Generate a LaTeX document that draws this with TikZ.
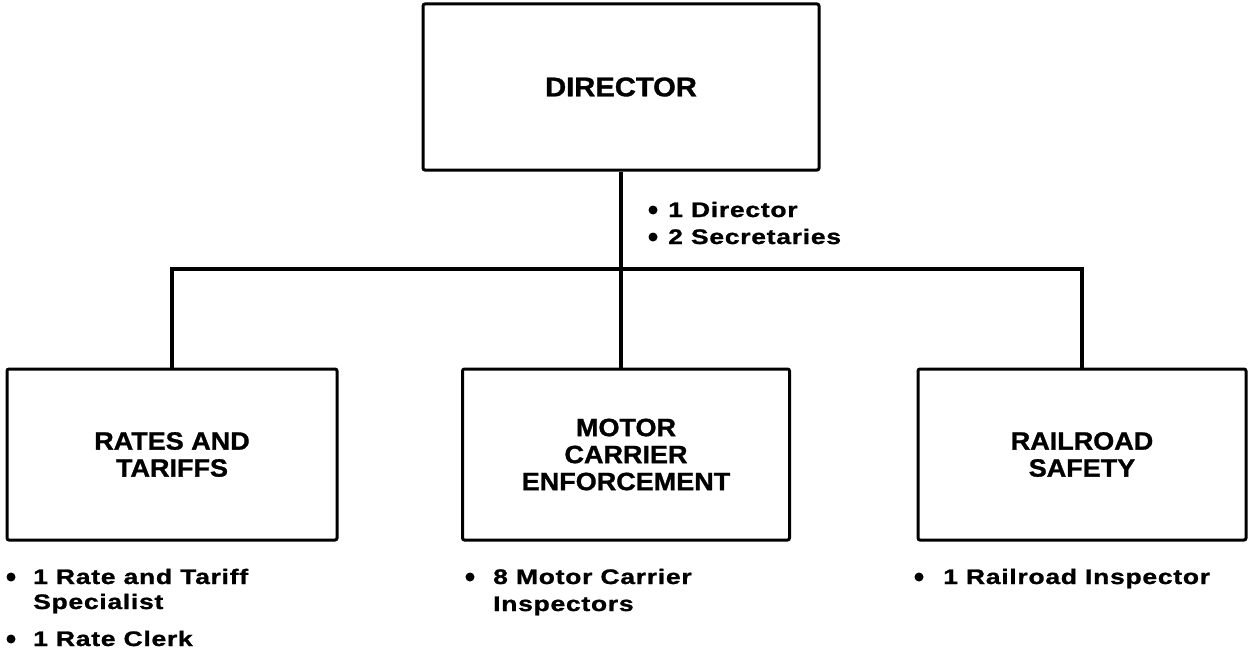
\documentclass[tikz,border=0pt]{standalone}
\usepackage{fontspec}
\setmainfont{Liberation Sans}
\newfontfamily\titlef[FakeStretch=1.08,FakeBold=1.2]{Liberation Sans}
\newfontfamily\bulf[FakeStretch=1.26,LetterSpace=3.5,FakeBold=1.2]{Liberation Sans}
\begin{document}
\begin{tikzpicture}[x=1pt,y=-1pt,
  box/.style={draw, line width=3pt, rounded corners=2pt, inner sep=0pt,
    font=\titlef\bfseries\fontsize{25}{27}\selectfont, align=center},
  conn/.style={line width=3.5pt, line join=miter},
  itm/.style={font=\bulf\bfseries\fontsize{21}{26}\selectfont, anchor=base west, inner sep=0pt},
  dot/.style={circle, fill, inner sep=0pt, minimum size=9pt}]
\useasboundingbox (0,0) rectangle (1249,650);
% boxes
\node[box, minimum width=396pt, minimum height=166pt,
  font=\titlef\bfseries\fontsize{27}{29}\selectfont] (dir) at (621,87) {DIRECTOR};
\node[box, minimum width=330pt, minimum height=171pt] (rates) at (172,454.5) {RATES AND\\TARIFFS};
\node[box, minimum width=327pt, minimum height=171pt] (motor) at (626,454.5) {MOTOR\\CARRIER\\ENFORCEMENT};
\node[box, minimum width=328pt, minimum height=171pt] (rail) at (1082,454.5) {RAILROAD\\SAFETY};
% connectors
\coordinate (jn) at (621,269);
\draw[conn] (dir.south) -- (jn);
\draw[conn] (rates.north) |- (jn) -| (rail.north);
\draw[conn] (jn) -- (jn |- motor.north);
% director staff
\node[dot] (d1) at (653,210) {};
\node[itm] (t1) at (668,217) {1 Director};
\node[dot] (d2) at (653,237) {};
\node[itm] (t2) at (668,244) {2 Secretaries};
% rates staff
\node[dot] (d3) at (11,577) {};
\node[itm] (t3) at (33,584) {1 Rate and Tariff};
\node[itm] (t4) at (33,609) {Specialist};
\node[dot] (d4) at (11,639) {};
\node[itm] (t5) at (33,646) {1 Rate Clerk};
% motor staff
\node[dot] (d5) at (470,577) {};
\node[itm] (t6) at (493,584) {8 Motor Carrier};
\node[itm] (t7) at (493,611) {Inspectors};
% rail staff
\node[dot] (d6) at (919,577) {};
\node[itm] (t8) at (943,584) {1 Railroad Inspector};
\end{tikzpicture}
\end{document}
